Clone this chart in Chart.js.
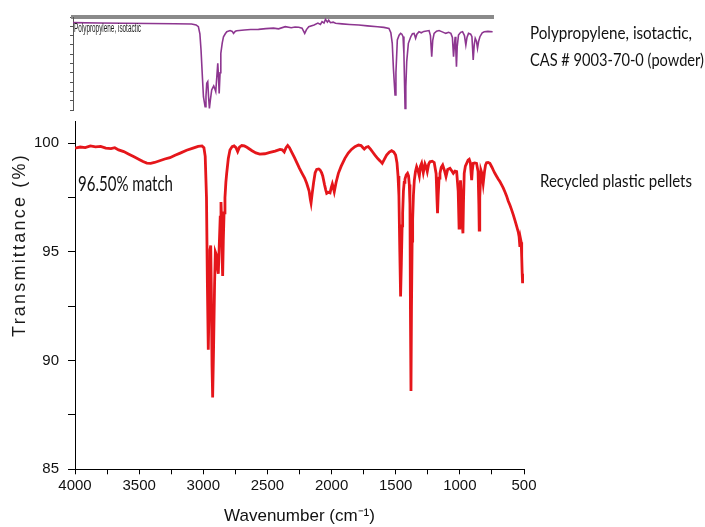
<!DOCTYPE html>
<html><head><meta charset="utf-8">
<script src="https://cdn.jsdelivr.net/npm/chart.js@4.4.1/dist/chart.umd.min.js"></script>
<style>
html,body{margin:0;padding:0;background:#fff;width:705px;height:527px;overflow:hidden}
#wrap{position:relative;width:705px;height:527px}
canvas{position:absolute;left:0;top:0}
</style></head><body>
<div id="wrap"><canvas id="main" width="705" height="527"></canvas><canvas id="ref" width="705" height="118"></canvas></div>
<script>
// ---- Recycled plastic pellets spectrum (main, red) ----
const recycledWavenumber = [4000,3960,3920,3880,3840,3800,3760,3720,3690,3660,3620,3580,3540,3500,3470,3440,3410,3380,3340,3300,3260,3220,3180,3130,3080,3040,3010,2995,2985,2975,2968,2961,2955,2948,2942,2937,2932,2927,2920,2912,2906,2900,2894,2888,2883,2876,2868,2862,2856,2852,2849,2844,2838,2831,2824,2818,2805,2792,2775,2760,2745,2732,2718,2700,2680,2660,2640,2620,2590,2560,2520,2480,2440,2402,2385,2369,2355,2342,2328,2311,2290,2270,2250,2230,2210,2194,2175,2165,2160,2152,2140,2128,2116,2100,2090,2078,2069,2055,2045,2038,2025,2012,2003,1994,1986,1979,1965,1947,1925,1896,1870,1845,1818,1790,1770,1755,1745,1730,1714,1695,1680,1662,1640,1620,1605,1590,1571,1550,1532,1515,1501,1490,1482,1475,1468,1462,1456,1450,1446,1440,1434,1428,1418,1408,1400,1394,1389,1385,1381,1377,1372,1368,1362,1355,1346,1337,1326,1316,1307,1298,1285,1272,1262,1254,1243,1233,1215,1200,1185,1178,1174,1169,1162,1155,1145,1134,1120,1108,1095,1077,1065,1051,1038,1025,1013,1006,1001,995,988,980,976,972,966,957,947,936,927,918,912,908,903,896,884,870,858,852,849,845,836,827,818,808,800,792,780,766,750,738,727,715,700,688,675,662,649,636,623,610,597,584,571,558,545,538,532,527,522,518,514,511];
const recycledTransmittance = [99.78,99.83,99.80,99.88,99.84,99.86,99.78,99.76,99.80,99.70,99.62,99.50,99.38,99.26,99.16,99.09,99.08,99.12,99.20,99.28,99.34,99.45,99.55,99.68,99.78,99.86,99.88,99.80,99.40,97.5,93.5,90.5,92.5,95.1,95.3,93.0,89.8,88.3,90.5,93.5,95.0,94.9,94.6,94.2,94.0,95.2,96.6,97.3,96.2,94.5,93.9,95.5,96.8,97.5,98.2,98.6,99.3,99.69,99.85,99.88,99.80,99.62,99.82,99.90,99.88,99.82,99.74,99.66,99.56,99.50,99.52,99.58,99.64,99.72,99.70,99.60,99.80,99.90,99.80,99.60,99.35,99.10,98.85,98.62,98.40,98.16,97.80,97.40,97.25,97.65,98.20,98.65,98.80,98.82,98.78,98.65,98.50,98.10,97.85,97.70,97.75,97.72,97.95,98.13,97.95,97.77,98.20,98.62,98.95,99.31,99.55,99.72,99.85,99.92,99.90,99.80,99.74,99.82,99.85,99.72,99.60,99.46,99.30,99.18,99.08,99.25,99.46,99.60,99.66,99.60,99.46,99.10,98.50,97.60,95.00,92.95,94.50,96.20,96.78,97.80,98.20,98.35,98.55,98.62,98.50,98.10,97.20,92.0,88.6,92.5,95.5,96.5,97.6,98.3,98.7,98.92,98.75,98.50,98.95,99.08,98.65,99.05,98.90,98.70,99.05,99.15,99.18,99.12,98.60,97.40,96.78,97.60,98.40,98.62,98.90,99.00,98.75,98.47,98.80,98.85,98.75,98.62,98.72,98.70,97.80,96.10,97.40,98.30,97.50,96.20,95.86,97.20,98.62,98.95,99.08,99.22,99.26,99.10,98.60,98.31,98.75,99.08,99.10,99.08,98.70,97.20,96.01,97.50,98.77,98.60,98.16,98.70,99.00,99.11,99.12,99.08,98.90,98.75,98.62,98.50,98.35,98.24,98.10,97.95,97.77,97.58,97.35,97.16,96.95,96.72,96.47,96.20,95.93,95.70,95.24,95.60,95.45,94.80,94.00,93.56];

// ---- Reference library spectrum (inset, purple), arbitrary %T scale ----
const referenceWavenumber = [4000,3800,3600,3400,3200,3065,3030,3012,3000,2991,2980,2972,2959,2952,2946,2938,2932,2925,2918,2907,2898,2891,2883,2875,2867,2859,2853,2848,2841,2835,2824,2814,2800,2788,2762,2745,2735,2720,2709,2650,2600,2538,2480,2420,2380,2327,2280,2250,2221,2195,2174,2160,2142,2100,2070,2050,2037,2022,2010,1995,1985,1971,1950,1931,1880,1820,1747,1680,1600,1550,1510,1495,1484,1475,1462,1455,1444,1430,1418,1408,1399,1392,1383,1377,1370,1357,1338,1325,1312,1300,1290,1273,1255,1235,1194,1183,1173,1165,1154,1135,1115,1090,1062,1040,1022,1010,1001,994,988,983,978,972,962,945,930,915,904,895,883,866,856,846,838,830,820,812,803,793,775,759,730,693];
const referenceTransmittance = [93.9,93.6,93.2,93.0,92.8,92.5,91.5,89.6,82,64.5,35,14.3,3.6,15,28.7,30.5,15,1.8,10,21.5,24,25.8,23,19.7,35,50.2,35,17.9,40,61,72,78.8,82,84.2,85.4,84.5,82.4,84.8,85.3,86.0,86.5,86.7,87.5,88.0,87.3,89.6,88.5,89.3,88.9,88.0,82.4,86.5,89.6,91.5,93.5,92.0,95.0,93.5,97.5,94.5,96.5,93.9,94.5,93.2,92.6,92.0,91.4,90.5,89.5,88.8,87.8,83,71.7,45,16.1,40,75.3,80.5,82.4,81.5,78.9,60,1.8,25,52,71.7,78.8,82.0,82.4,77.1,81.5,84.2,83.0,84.5,85.4,80,57.3,75,82.4,84.8,85.4,84.0,82.4,83.5,82.4,78,57.3,70,78.8,65,46.6,68,80.6,83.5,84.2,80,69.9,78,82.4,81.5,78.8,53.8,70,77.1,74,66.3,74,78.8,83.0,84.2,84.5,84.2];

// ---- Axis ticks and texts ----
const xTickLabels = [4000,3500,3000,2500,2000,1500,1000,500];
const yTickLabels = [85,90,95,100];
const xTitle = 'Wavenumber (cm\u207B\u00B9)';
const yTitle = 'Transmittance (%)';
const matchLabel = '96.50% match';
const referenceLabel = ['Polypropylene, isotactic,', 'CAS # 9003-70-0 (powder)'];
const sampleLabel = 'Recycled plastic pellets';
const insetLabel = 'Polypropylene, isotactic';

const axisFont = '"Liberation Sans", Arial, sans-serif';

const mainTexts = {
  id: 'mainTexts',
  afterDraw(chart) {
    const ctx = chart.ctx;
    ctx.save();
    ctx.fillStyle = '#111';
    ctx.textAlign = 'left';
    ctx.textBaseline = 'alphabetic';
    ctx.font = '22px Lato, "Open Sans", sans-serif';
    ctx.fillText(matchLabel, 78, 190.5, 95);
    ctx.font = '18px Lato, "Open Sans", sans-serif';
    ctx.fillText(referenceLabel[0], 530, 39, 162);
    ctx.fillText(referenceLabel[1], 530, 66, 174);
    ctx.fillText(sampleLabel, 540, 186.5, 152);
    ctx.translate(20, 245);
    ctx.rotate(-Math.PI / 2);
    ctx.font = '18px ' + axisFont;
    try { ctx.letterSpacing = '2.2px'; } catch (e) {}
    ctx.textAlign = 'center';
    ctx.textBaseline = 'middle';
    ctx.fillStyle = '#1a1a1a';
    ctx.fillText(yTitle, 0, 0);
    ctx.restore();
  }
};

new Chart(document.getElementById('main'), {
  type: 'line',
  data: {
    datasets: [{
      data: recycledWavenumber.map((w, i) => ({ x: w, y: recycledTransmittance[i] })),
      borderColor: '#e5161b',
      borderWidth: 2.8,
      pointRadius: 0,
      tension: 0,
      fill: false
    }]
  },
  options: {
    responsive: false,
    animation: false,
    layout: { padding: { left: 0, right: 181, top: 121.6, bottom: 0 } },
    plugins: { legend: { display: false }, tooltip: { enabled: false } },
    scales: {
      x: {
        type: 'linear', reverse: true, min: 500, max: 4000, position: 'bottom',
        ticks: {
          stepSize: 250, autoSkip: false, maxRotation: 0, padding: 3, color: '#111',
          font: { family: axisFont, size: 15 },
          callback: v => xTickLabels.includes(v) ? String(v) : ''
        },
        grid: { drawOnChartArea: false, drawTicks: true, tickLength: 5, color: '#000' },
        border: { color: '#000', width: 1 },
        title: { display: true, text: xTitle, color: '#111', font: { family: axisFont, size: 17 }, padding: { top: 0, bottom: 0 } },
        afterFit: s => { s.height = 57.7; }
      },
      y: {
        type: 'linear', min: 85, max: 101,
        ticks: {
          stepSize: 2.5, includeBounds: false, padding: 9, color: '#111',
          font: { family: axisFont, size: 15 },
          callback: v => yTickLabels.includes(v) ? String(v) : ''
        },
        grid: { drawOnChartArea: false, drawTicks: true, tickLength: 7, color: '#000' },
        border: { color: '#000', width: 1 },
        afterFit: s => { s.width = 75; }
      }
    }
  },
  plugins: [mainTexts]
});

const insetTexts = {
  id: 'insetTexts',
  afterDraw(chart) {
    const ctx = chart.ctx;
    ctx.save();
    ctx.fillStyle = '#222';
    ctx.font = '12px "Liberation Sans Narrow", "Liberation Sans", Arial, sans-serif';
    ctx.textAlign = 'left';
    ctx.textBaseline = 'alphabetic';
    ctx.fillText(insetLabel, 74, 32, 67);
    ctx.restore();
  }
};

new Chart(document.getElementById('ref'), {
  type: 'line',
  data: {
    datasets: [{
      data: referenceWavenumber.map((w, i) => ({ x: w, y: referenceTransmittance[i] })),
      borderColor: '#8d3690',
      borderWidth: 1.6,
      pointRadius: 0,
      tension: 0,
      fill: false
    }]
  },
  options: {
    responsive: false,
    animation: false,
    layout: { padding: { left: 0, right: 212, top: 17, bottom: 8 } },
    plugins: { legend: { display: false }, tooltip: { enabled: false } },
    scales: {
      x: {
        type: 'linear', reverse: true, min: 690, max: 4000, position: 'top',
        ticks: { display: false },
        grid: { display: false, drawTicks: false },
        border: { display: true, color: '#8a8a8a', width: 4 },
        afterFit: s => { s.height = 0; }
      },
      y: {
        type: 'linear', min: 0, max: 100,
        ticks: { display: false, stepSize: 10 },
        grid: { drawOnChartArea: false, drawTicks: true, tickLength: 3, color: '#555' },
        border: { color: '#555', width: 1 },
        afterFit: s => { s.width = 73; }
      }
    }
  },
  plugins: [insetTexts]
});
</script>
</body></html>
